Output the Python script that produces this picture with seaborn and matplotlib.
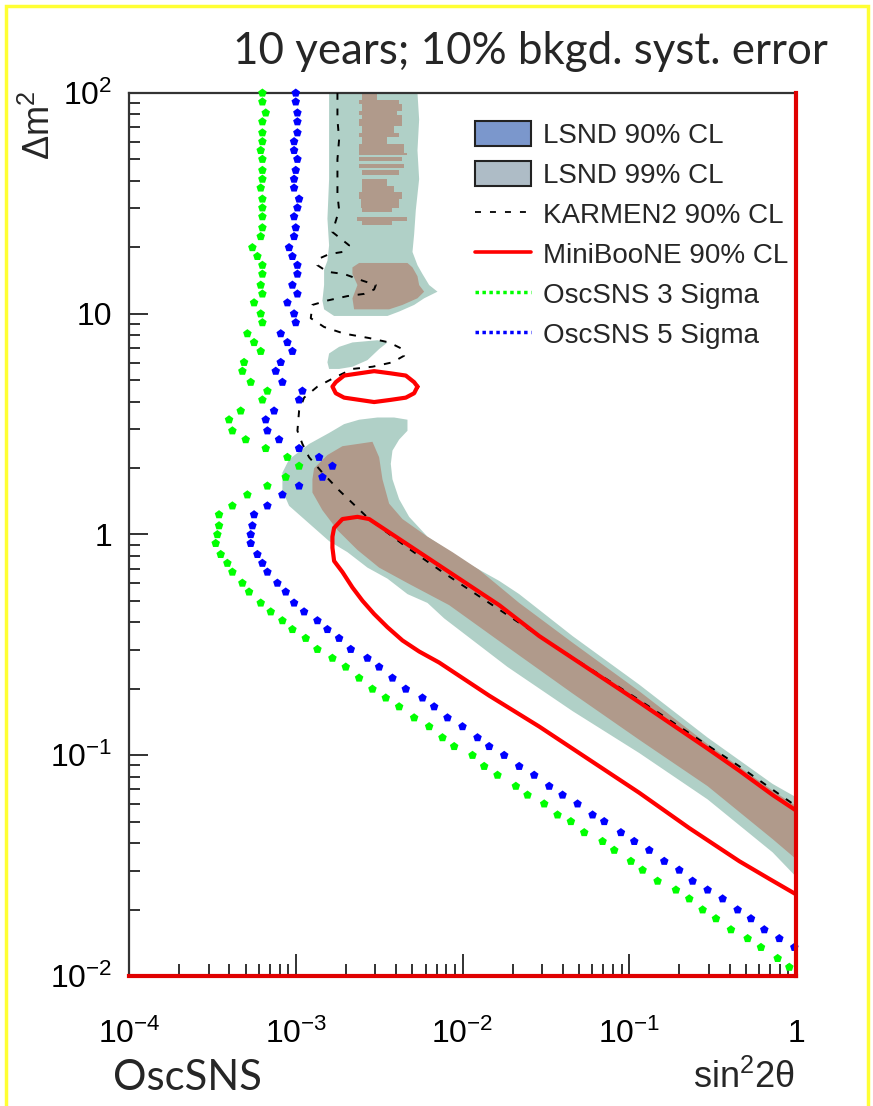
import numpy as np
import matplotlib
matplotlib.use("Agg")
import matplotlib.pyplot as plt
import matplotlib.patches as mpatches
from matplotlib.lines import Line2D
from matplotlib.ticker import FixedLocator, FixedFormatter, LogLocator, NullFormatter
import seaborn as sns

# ---------------------------------------------------------------------------
# Data (all coordinates stored as log10 values: x = sin^2(2theta), y = dm^2)
# ---------------------------------------------------------------------------

# OscSNS sensitivity curves, sampled on a common dm^2 grid
dm2_rows = [2.00, 1.96, 1.91, 1.87, 1.82, 1.78, 1.74, 1.70, 1.65, 1.61,
            1.57, 1.52, 1.48, 1.44, 1.39, 1.35, 1.30, 1.26, 1.22, 1.18,
            1.13, 1.09, 1.05, 1.00, 0.96, 0.91, 0.87, 0.83, 0.78, 0.74,
            0.69, 0.65, 0.61, 0.56, 0.52, 0.47, 0.43, 0.39, 0.35, 0.31,
            0.26, 0.22, 0.18, 0.13, 0.09, 0.04, 0.00, -0.04, -0.09, -0.13,
            -0.17, -0.22, -0.26, -0.31, -0.35, -0.39, -0.43, -0.47, -0.52, -0.56,
            -0.60, -0.65, -0.70, -0.74, -0.78, -0.83, -0.87, -0.92, -0.96, -1.00,
            -1.05, -1.09, -1.14, -1.18, -1.22, -1.27, -1.30, -1.35, -1.39, -1.43,
            -1.48, -1.52, -1.57, -1.61, -1.65, -1.70, -1.74, -1.79, -1.83, -1.87,
            -1.92, -1.96]

oscsns_3sigma = [-3.20, -3.20, -3.18, -3.20, -3.20, -3.20, -3.21, -3.20, -3.20, -3.20,
                 -3.21, -3.20, -3.20, -3.20, -3.20, -3.21, -3.26, -3.23, -3.20, -3.20,
                 -3.21, -3.20, -3.25, -3.21, -3.20, -3.29, -3.25, -3.21, -3.31, -3.32,
                 -3.27, -3.17, -3.20, -3.33, -3.40, -3.38, -3.30, -3.18, -3.05, -2.98,
                 -3.06, -3.17, -3.29, -3.38, -3.46, -3.46, -3.47, -3.48, -3.45, -3.41,
                 -3.38, -3.32, -3.28, -3.21, -3.15, -3.08, -3.02, -2.94, -2.87, -2.78,
                 -2.70, -2.62, -2.54, -2.46, -2.38, -2.29, -2.20, -2.12, -2.05, -1.94,
                 -1.87, -1.79, -1.68, -1.61, -1.51, -1.43, -1.35, -1.27, -1.16, -1.09,
                 -0.99, -0.92, -0.83, -0.72, -0.64, -0.56, -0.48, -0.39, -0.29, -0.21,
                 -0.11, -0.04]

oscsns_5sigma = [-3.00, -3.00, -2.99, -2.99, -2.99, -3.01, -3.01, -2.99, -3.00, -3.01,
                 -3.01, -2.98, -2.99, -3.01, -3.00, -3.01, -3.04, -3.02, -2.99, -2.99,
                 -3.02, -2.99, -3.05, -3.01, -3.00, -3.09, -3.05, -3.02, -3.09, -3.12,
                 -3.08, -2.96, -2.98, -3.13, -3.18, -3.17, -3.10, -2.98, -2.86, -2.78,
                 -2.84, -2.98, -3.08, -3.17, -3.25, -3.26, -3.27, -3.27, -3.23, -3.20,
                 -3.17, -3.11, -3.06, -3.01, -2.95, -2.87, -2.81, -2.74, -2.67, -2.57,
                 -2.50, -2.42, -2.34, -2.24, -2.17, -2.09, -2.00, -1.91, -1.84, -1.75,
                 -1.66, -1.57, -1.48, -1.40, -1.31, -1.22, -1.15, -1.05, -0.97, -0.88,
                 -0.79, -0.70, -0.62, -0.53, -0.44, -0.35, -0.27, -0.19, -0.10, -0.01]

# LSND 99% CL allowed regions
lsnd99_high_x = [-2.80, -2.27, -2.26, -2.27, -2.26, -2.28, -2.29, -2.30, -2.27, -2.24,
                 -2.20, -2.15, -2.23, -2.29, -2.38, -2.45, -2.77, -2.83, -2.84, -2.83,
                 -2.83, -2.81, -2.80, -2.81, -2.80, -2.80, -2.80]
lsnd99_high_y = [2.00, 2.00, 1.88, 1.74, 1.61, 1.47, 1.36, 1.28, 1.22, 1.18,
                 1.13, 1.10, 1.07, 1.04, 1.01, 0.99, 0.99, 1.02, 1.06, 1.13,
                 1.20, 1.24, 1.31, 1.43, 1.61, 1.79, 1.92]

lsnd99_island_x = [-2.81, -2.80, -2.74, -2.66, -2.51, -2.45, -2.50, -2.57, -2.66, -2.74, -2.80]
lsnd99_island_y = [0.78, 0.82, 0.85, 0.87, 0.88, 0.87, 0.84, 0.79, 0.76, 0.75, 0.75]

lsnd99_low_x = [-2.71, -2.62, -2.51, -2.41, -2.33, -2.33, -2.38, -2.42, -2.43, -2.42,
                -2.38, -2.32, -2.21, -1.97, -1.78, -1.66, -1.34, -0.94, -0.53, -0.14,
                0.00, 0.00, -0.14, -0.53, -0.94, -1.34, -1.73, -2.11, -2.21, -2.33,
                -2.45, -2.57, -2.69, -2.80, -2.92, -3.04, -3.08, -3.08, -3.04, -2.92, -2.80]
lsnd99_low_y = [0.50, 0.52, 0.53, 0.53, 0.52, 0.47, 0.43, 0.38, 0.32, 0.25,
                0.16, 0.08, -0.01, -0.13, -0.21, -0.27, -0.46, -0.68, -0.92, -1.13,
                -1.19, -1.55, -1.44, -1.20, -0.99, -0.80, -0.60, -0.38, -0.31, -0.27,
                -0.20, -0.15, -0.08, -0.03, 0.05, 0.13, 0.20, 0.28, 0.34, 0.41, 0.46]

# LSND 90% CL allowed regions
lsnd90_low_x = [-2.54, -2.50, -2.48, -2.44, -2.36, -2.21, -2.06, -1.90, -1.66, -1.34,
                -0.94, -0.53, -0.14, 0.00, 0.00, -0.14, -0.53, -0.94, -1.34, -1.73,
                -2.08, -2.18, -2.33, -2.50, -2.63, -2.75, -2.84, -2.90, -2.90, -2.89,
                -2.81, -2.72]
lsnd90_low_y = [0.42, 0.35, 0.25, 0.14, 0.07, -0.01, -0.08, -0.16, -0.31, -0.49,
                -0.71, -0.95, -1.16, -1.23, -1.47, -1.38, -1.14, -0.93, -0.72, -0.51,
                -0.32, -0.28, -0.22, -0.15, -0.07, 0.02, 0.11, 0.19, 0.25, 0.30,
                0.36, 0.40]

lsnd90_mid_x = [-2.66, -2.62, -2.33, -2.30, -2.27, -2.26, -2.23, -2.27, -2.36, -2.44,
                -2.65, -2.66, -2.63, -2.66]
lsnd90_mid_y = [1.21, 1.23, 1.23, 1.21, 1.17, 1.13, 1.10, 1.07, 1.04, 1.02,
                1.02, 1.07, 1.13, 1.18]

# striped 90% CL band at large dm^2: (lower dm^2, upper dm^2, left, right)
lsnd90_band_lo = [1.97, 1.95, 1.92, 1.90, 1.88, 1.85, 1.82, 1.80, 1.77, 1.73,
                  1.72, 1.69, 1.66, 1.63, 1.58, 1.55, 1.52, 1.48, 1.46, 1.42, 1.40]
lsnd90_band_hi = [2.00, 1.97, 1.95, 1.92, 1.90, 1.88, 1.85, 1.82, 1.80, 1.77,
                  1.73, 1.71, 1.68, 1.65, 1.61, 1.58, 1.55, 1.52, 1.48, 1.44, 1.42]
lsnd90_band_left = [-2.60, -2.62, -2.60, -2.62, -2.60, -2.62, -2.60, -2.62, -2.60, -2.62,
                    -2.62, -2.62, -2.62, -2.60, -2.60, -2.60, -2.62, -2.61, -2.60, -2.63, -2.60]
lsnd90_band_right = [-2.51, -2.38, -2.36, -2.39, -2.36, -2.36, -2.41, -2.38, -2.45, -2.35,
                     -2.33, -2.36, -2.35, -2.38, -2.45, -2.41, -2.36, -2.38, -2.42, -2.33, -2.42]

# KARMEN2 90% CL exclusion curve
karmen_x = [-2.75, -2.75, -2.74, -2.75, -2.75, -2.75, -2.74, -2.76, -2.78, -2.73,
            -2.68, -2.72, -2.80, -2.86, -2.87, -2.81, -2.71, -2.60, -2.52, -2.53,
            -2.59, -2.69, -2.81, -2.90, -2.91, -2.83, -2.71, -2.56, -2.44, -2.36,
            -2.35, -2.42, -2.54, -2.66, -2.77, -2.87, -2.95, -2.98, -2.99, -2.96,
            -2.92, -2.84, -2.74, -2.56, -2.33, -2.12, -1.54, -0.94, -0.34, 0.00]
karmen_y = [2.00, 1.88, 1.79, 1.70, 1.61, 1.54, 1.47, 1.42, 1.37, 1.34,
            1.31, 1.28, 1.27, 1.25, 1.22, 1.19, 1.18, 1.15, 1.13, 1.11,
            1.09, 1.08, 1.06, 1.04, 0.98, 0.94, 0.91, 0.89, 0.87, 0.84,
            0.81, 0.78, 0.76, 0.75, 0.71, 0.67, 0.62, 0.56, 0.47, 0.41,
            0.35, 0.28, 0.20, 0.07, -0.06, -0.17, -0.46, -0.75, -1.05, -1.23]

# MiniBooNE 90% CL allowed regions
miniboone_low_x = [0.00, -0.14, -0.34, -0.53, -0.94, -1.34, -1.54, -1.66, -1.78, -1.90,
                   -2.02, -2.14, -2.26, -2.38, -2.48, -2.56, -2.63, -2.72, -2.77, -2.78,
                   -2.78, -2.77, -2.72, -2.66, -2.60, -2.53, -2.45, -2.36, -2.26, -2.14,
                   -1.84, -1.54, -1.24, -0.94, -0.64, -0.34, -0.16, 0.00]
miniboone_low_y = [-1.25, -1.18, -1.07, -0.97, -0.76, -0.56, -0.46, -0.39, -0.32, -0.26,
                   -0.20, -0.14, -0.08, -0.02, 0.03, 0.07, 0.08, 0.07, 0.03, -0.01,
                   -0.06, -0.12, -0.17, -0.24, -0.30, -0.36, -0.42, -0.48, -0.53, -0.58,
                   -0.73, -0.87, -1.02, -1.17, -1.33, -1.48, -1.56, -1.63]

miniboone_island_x = [-2.27, -2.29, -2.34, -2.43, -2.53, -2.62, -2.71, -2.76, -2.78,
                      -2.76, -2.71, -2.62, -2.53, -2.43, -2.34, -2.29, -2.27]
miniboone_island_y = [0.67, 0.69, 0.72, 0.73, 0.74, 0.73, 0.72, 0.69, 0.67,
                      0.64, 0.62, 0.61, 0.60, 0.61, 0.62, 0.64, 0.67]

# Axis ticks
x_tick_exp = [-4, -3, -2, -1, 0]
x_tick_labels = [r"$\mathregular{10^{-4}}$", r"$\mathregular{10^{-3}}$",
                 r"$\mathregular{10^{-2}}$", r"$\mathregular{10^{-1}}$", "1"]
y_tick_exp = [-2, -1, 0, 1, 2]
y_tick_labels = [r"$\mathregular{10^{-2}}$", r"$\mathregular{10^{-1}}$", "1", "10",
                 r"$\mathregular{10^{2}}$"]

legend_labels = ["LSND 90% CL", "LSND 99% CL", "KARMEN2 90% CL",
                 "MiniBooNE 90% CL", "OscSNS 3 Sigma", "OscSNS 5 Sigma"]

# ---------------------------------------------------------------------------
# Styling
# ---------------------------------------------------------------------------
sns.set_theme(style="white")
plt.rcParams["font.family"] = ["Liberation Sans", "DejaVu Sans"]
plt.rcParams["mathtext.fontset"] = "custom"
plt.rcParams["mathtext.rm"] = "Liberation Sans"
plt.rcParams["mathtext.it"] = "Liberation Sans:italic"

TEAL = "#b0d0c7"
BROWN = "#b09a8b"
LEG_BLUE = "#7b97cc"
LEG_GREY = "#aebcc6"
RED = "#ff0000"
GREEN = "#00ff00"
BLUE = "#0000ff"


def lin(v):
    return np.power(10.0, np.asarray(v, dtype=float))


W, H = 873, 1106
fig = plt.figure(figsize=(W / 100, H / 100), dpi=100)
ax = fig.add_axes([129 / W, 1 - 976 / H, 667 / W, 883 / H])
ax.set_xscale("log")
ax.set_yscale("log")
ax.set_xlim(1e-4, 1)
ax.set_ylim(1e-2, 1e2)

# LSND regions
for xs, ys in [(lsnd99_high_x, lsnd99_high_y), (lsnd99_island_x, lsnd99_island_y),
               (lsnd99_low_x, lsnd99_low_y)]:
    ax.fill(lin(xs), lin(ys), color=TEAL, lw=0, zorder=1)
for xs, ys in [(lsnd90_low_x, lsnd90_low_y), (lsnd90_mid_x, lsnd90_mid_y)]:
    ax.fill(lin(xs), lin(ys), color=BROWN, lw=0, zorder=2)
for lo, hi, l, r in zip(lsnd90_band_lo, lsnd90_band_hi, lsnd90_band_left, lsnd90_band_right):
    ax.fill_between(lin([l, r]), 10 ** lo, 10 ** hi, color=BROWN, lw=0, zorder=2)

# KARMEN2 exclusion
sns.lineplot(x=lin(karmen_x), y=lin(karmen_y), sort=False, estimator=None, ax=ax,
             color="black", lw=1.4, zorder=3, legend=False)
ax.lines[-1].set_linestyle((0, (3.5, 4.5)))

# MiniBooNE
for xs, ys in [(miniboone_low_x, miniboone_low_y), (miniboone_island_x, miniboone_island_y)]:
    sns.lineplot(x=lin(xs), y=lin(ys), sort=False, estimator=None, ax=ax,
                 color=RED, lw=3.0, zorder=4, legend=False)

# OscSNS sensitivities
sns.scatterplot(x=lin(oscsns_3sigma), y=lin(dm2_rows[:len(oscsns_3sigma)]), ax=ax,
                marker="p", s=42, color=GREEN, edgecolor="none", zorder=6,
                clip_on=False, legend=False)
sns.scatterplot(x=lin(oscsns_5sigma), y=lin(dm2_rows[:len(oscsns_5sigma)]), ax=ax,
                marker="p", s=42, color=BLUE, edgecolor="none", zorder=6,
                clip_on=False, legend=False)

# Axes frame and ticks
for side in ["top", "left"]:
    ax.spines[side].set_color("#333333")
    ax.spines[side].set_linewidth(1.6)
for side in ["bottom", "right"]:
    ax.spines[side].set_color("#e00000")
    ax.spines[side].set_linewidth(3.0)
    ax.spines[side].set_zorder(7)

ax.xaxis.set_major_locator(FixedLocator(lin(x_tick_exp)))
ax.xaxis.set_major_formatter(FixedFormatter(x_tick_labels))
ax.yaxis.set_major_locator(FixedLocator(lin(y_tick_exp)))
ax.yaxis.set_major_formatter(FixedFormatter(y_tick_labels))
for axis in (ax.xaxis, ax.yaxis):
    axis.set_minor_locator(LogLocator(base=10, subs=np.arange(2, 10)))
    axis.set_minor_formatter(NullFormatter())

ax.tick_params(axis="x", which="major", direction="in", length=16, width=1.3,
               color="#222222", bottom=True, top=False, pad=31, labelsize=23,
               labelcolor="black")
ax.tick_params(axis="x", which="minor", direction="in", length=8.5, width=1.3,
               color="#222222", bottom=True, top=False)
ax.tick_params(axis="y", which="major", direction="in", length=14, width=1.3,
               color="#222222", left=True, right=False, pad=12, labelsize=23,
               labelcolor="black")
ax.tick_params(axis="y", which="minor", direction="in", length=8, width=1.3,
               color="#222222", left=True, right=False)

# Legend
handles = [
    mpatches.Patch(facecolor=LEG_BLUE, edgecolor="#222222", lw=1.5),
    mpatches.Patch(facecolor=LEG_GREY, edgecolor="#222222", lw=1.5),
    Line2D([], [], color="black", lw=1.3, linestyle=(0, (3.3, 5))),
    Line2D([], [], color=RED, lw=2.6),
    Line2D([], [], color=GREEN, lw=2.5, linestyle=(0, (1, 1))),
    Line2D([], [], color=BLUE, lw=2.5, linestyle=(0, (1, 1))),
]
leg = ax.legend(handles, legend_labels, loc="upper left", bbox_to_anchor=(0.519, 0.968),
                frameon=False, fontsize=20, handlelength=2.0, handleheight=1.0,
                handletextpad=0.43, labelspacing=0.43, borderpad=0, borderaxespad=0)
leg.set_zorder(8)

# Axis titles
fig.text(795 / W, 1 - 1088 / H, r"$\mathregular{sin^{2}2θ}$", ha="right",
         va="baseline", fontsize=26)
fig.text(40 / W, 1 - 91 / H, r"$\mathregular{Δm^{2}}$", rotation=90, ha="center",
         va="top", fontsize=26)

# Headline and experiment tag
title = fig.text(233 / W, 1 - 64 / H, "10 years; 10% bkgd. syst. error", ha="left",
                 va="baseline", fontsize=30, family=["Lato", "DejaVu Sans"])
tag = fig.text(113 / W, 1 - 1090 / H, "OscSNS", ha="left", va="baseline",
               fontsize=34, family=["Lato", "DejaVu Sans"])
renderer = fig.canvas.get_renderer()
for txt, width_px in [(title, 594), (tag, 149)]:
    w = txt.get_window_extent(renderer=renderer).width
    txt.set_fontsize(txt.get_fontsize() * width_px / w)

# Yellow frame around the slide panel
fig.patches.append(mpatches.Rectangle((6 / W, -0.02), (868 - 6) / W, 1 - 6 / H + 0.02,
                                      transform=fig.transFigure, fill=False,
                                      edgecolor="#ffff33", lw=2.5))

fig.savefig("out.png", dpi=100)
